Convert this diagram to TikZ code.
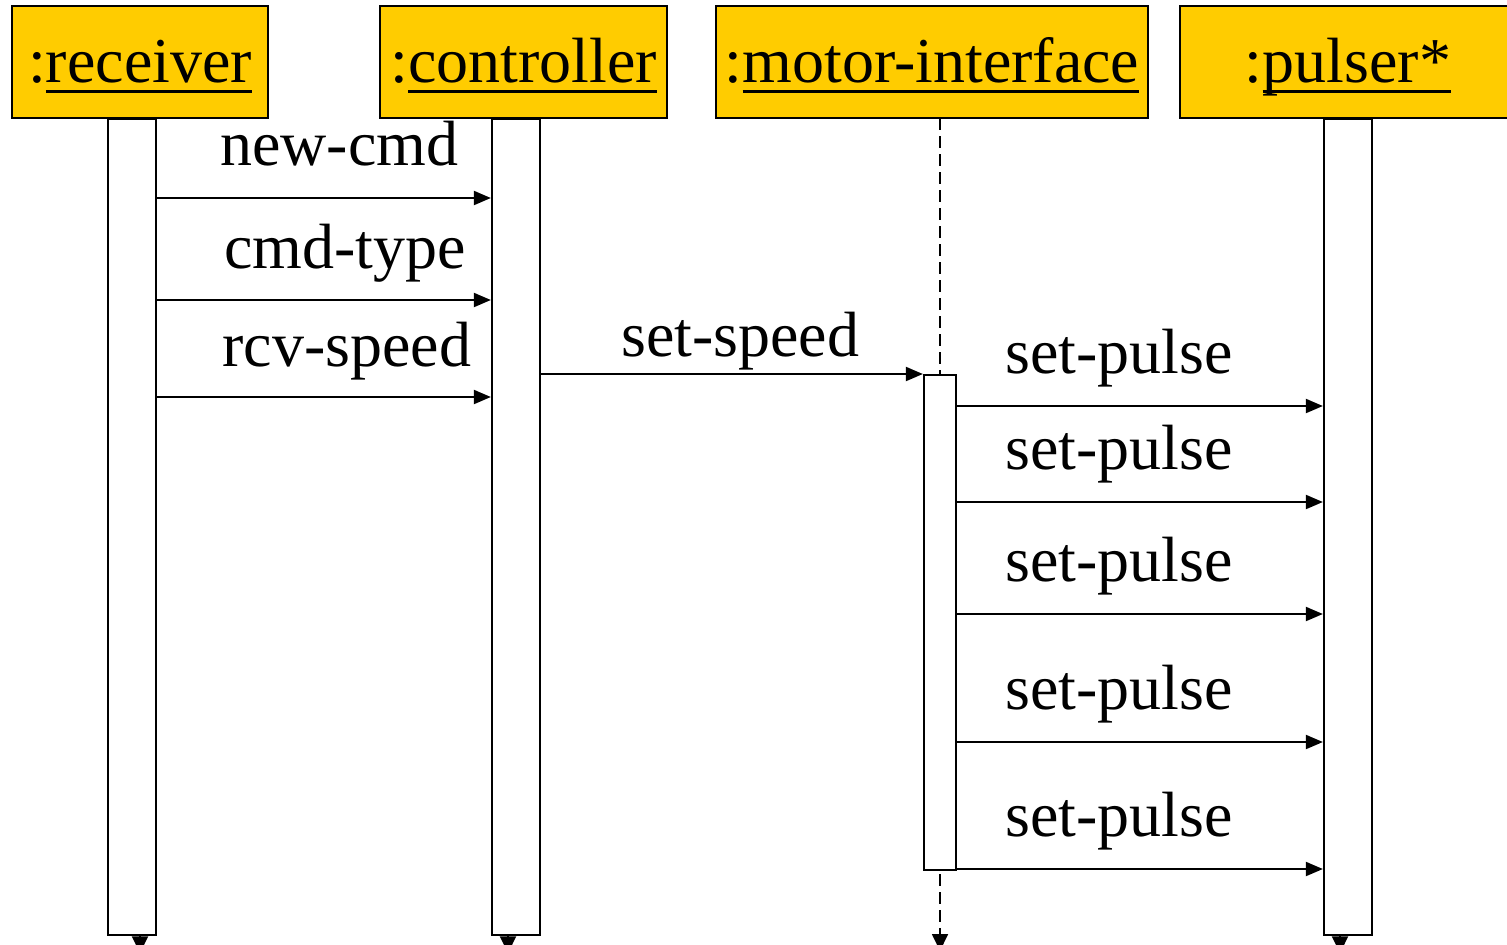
\documentclass[tikz,border=0pt]{standalone}
\usepackage{fontspec}
\setmainfont{Liberation Serif}
\usetikzlibrary{arrows.meta,positioning}
\definecolor{objfill}{HTML}{FFCC00}
\newcommand\umlfont{\fontsize{36.4pt}{44pt}\selectfont}
\newcommand\objname[1]{\setbox0\hbox{#1}\rlap{\rule[-0.17em]{\wd0}{0.05em}}\box0}
\tikzset{obj/.style={draw, fill=objfill, line width=0.5mm, inner sep=0pt,
  minimum height=22.4mm, text height=10mm, text depth=1.9mm, font=\umlfont}}
\tikzset{bar/.style={draw, fill=white, line width=0.45mm, inner sep=0pt, anchor=north}}
\tikzset{lbl/.style={draw=none, inner sep=0pt, anchor=base west, font=\umlfont}}
\tikzset{
  msg/.style={black, line width=0.4mm, -{Triangle[length=3.4mm,width=2.8mm]}},
  endtip/.style={black, line width=0.4mm, -{Triangle[length=3.4mm,width=3.2mm]}},
  lifedash/.style={black, line width=0.35mm, dash pattern=on 2.4mm off 1.2mm,
    -{Triangle[length=3.4mm,width=3.2mm]}}
}

\begin{document}
\begin{tikzpicture}[x=0.2mm, y=-0.2mm]
\useasboundingbox (0,0) rectangle (1507,945);

% objects
\node[obj, minimum width=51.2mm](rcv) at (140,62) {:\objname{receiver}};
\node[obj, minimum width=57.4mm](ctl) at (523.5,62) {:\objname{controller}};
\node[obj, minimum width=86.4mm](mif) at (932,62) {:\objname{motor-interface}};
\node[obj, minimum width=67.2mm](pls) at (1348,62) {:\objname{pulser*}};

% lifelines
\coordinate (mifTop) at (940,118);
\coordinate (mifEnd) at (940,951);
\draw[lifedash] (mifTop) -- (mifEnd);

\node[bar, minimum width=9.6mm, minimum height=163.2mm](rcvL) at (132,118) {};
\node[bar, minimum width=9.6mm, minimum height=163.2mm](ctlL) at (516,118) {};
\node[bar, minimum width=9.6mm, minimum height=163.2mm](plsL) at (1348,118) {};
\node[bar, minimum width=6.4mm, minimum height=99mm](mifA) at (940,374) {};

\foreach \l/\x in {rcvL/140,ctlL/508,plsL/1340}
  \draw[endtip] (\l.south -| \x,0) -- ++(0,17);

% messages
\draw[msg] (rcvL.east |- 0,198) -- (ctlL.west |- 0,198);
\node[lbl](m1) at (220,165) {new-cmd};

\draw[msg] (rcvL.east |- 0,300) -- (ctlL.west |- 0,300);
\node[lbl](m2) at (224,268) {cmd-type};

\draw[msg] (rcvL.east |- 0,397) -- (ctlL.west |- 0,397);
\node[lbl](m3) at (222,366) {rcv-speed};

\draw[msg] (ctlL.east |- mifA.north) -- (mifA.north west);
\node[lbl](m4) at (621,356) {set-speed};

\foreach \y [count=\i] in {406,502,614,742,869}{
  \draw[msg] (mifA.east |- 0,\y) -- (plsL.west |- 0,\y);
  \node[lbl](sp\i) at (1005,\y-33) {set-pulse};
}
\end{tikzpicture}
\end{document}
